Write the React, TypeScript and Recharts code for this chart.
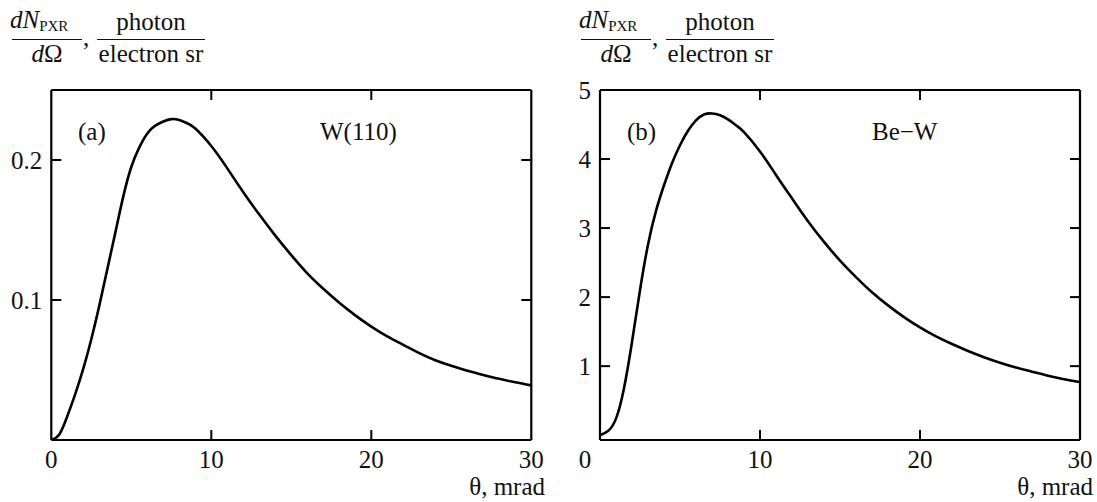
import { Line, LineChart, XAxis, YAxis } from "recharts";

// theta, mrad
const THETA = [
  0, 0.5, 1, 1.5, 2, 2.5, 3, 3.5, 4, 4.5, 5, 5.5, 6, 6.5, 7, 7.5, 8, 8.5, 9, 10, 11, 12, 13, 14, 15, 16, 17,
  18, 19, 20, 21, 22, 23, 24, 25, 26, 27, 28, 29, 30,
];

// (a) W(110)
const W110 = [
  0, 0.004, 0.017, 0.033, 0.051, 0.072, 0.096, 0.122, 0.148, 0.174, 0.195, 0.209, 0.219, 0.2245, 0.2275, 0.2292,
  0.2285, 0.2262, 0.2225, 0.21, 0.194, 0.177, 0.161, 0.146, 0.132, 0.119, 0.108, 0.098, 0.089, 0.081, 0.074,
  0.068, 0.062, 0.057, 0.053, 0.0495, 0.0465, 0.0437, 0.0412, 0.039,
];

// (b) Be-W
const BEW = [
  0, 0.06, 0.24, 0.68, 1.35, 2.1, 2.76, 3.25, 3.62, 3.94, 4.2, 4.41, 4.56, 4.645, 4.66, 4.635, 4.575, 4.49, 4.39,
  4.11, 3.77, 3.43, 3.1, 2.8, 2.53, 2.29, 2.07, 1.88, 1.71, 1.56, 1.43, 1.32, 1.22, 1.13, 1.05, 0.98, 0.92, 0.86,
  0.81, 0.77,
];

const X_TICKS = [0, 10, 20, 30];
const A_TICKS = [0.1, 0.2];
const B_TICKS = [1, 2, 3, 4, 5];

const FONT = "'Liberation Serif', 'DejaVu Serif', serif";
const FS = 25;
const TICK = 10;

type TickProps = { x?: number; y?: number; payload?: { value: number } };

const BottomTick = ({ x = 0, y = 0, payload, zeroShift = 0 }: TickProps & { zeroShift?: number }) => {
  const v = payload?.value ?? 0;
  const inner = v !== 0 && v !== 30;
  return (
    <g>
      {inner && <line x1={x} x2={x} y1={y} y2={y - TICK} stroke="#000" strokeWidth={2} />}
      <text x={x + (v === 0 ? zeroShift : 0)} y={y + 28} textAnchor="middle" fontFamily={FONT} fontSize={FS} fill="#111">
        {v}
      </text>
    </g>
  );
};

const TopTick = ({ x = 0, y = 0, payload }: TickProps) => {
  const v = payload?.value ?? 0;
  if (v === 0 || v === 30) return <g />;
  return <line x1={x} x2={x} y1={y} y2={y + TICK} stroke="#000" strokeWidth={2} />;
};

const LeftTick = ({ x = 0, y = 0, payload, top = false }: TickProps & { top?: boolean }) => {
  const v = payload?.value ?? 0;
  return (
    <g>
      {!top && <line x1={x} x2={x + TICK} y1={y} y2={y} stroke="#000" strokeWidth={2} />}
      <text x={x - 9} y={y + 9} textAnchor="end" fontFamily={FONT} fontSize={FS} fill="#111">
        {v}
      </text>
    </g>
  );
};

const RightTick = ({ x = 0, y = 0, top = false }: TickProps & { top?: boolean }) =>
  top ? <g /> : <line x1={x} x2={x - TICK} y1={y} y2={y} stroke="#000" strokeWidth={2} />;

const axisLine = { stroke: "#000", strokeWidth: 2.2 };

function Panel({
  values,
  yDomain,
  yTicks,
  topValue,
  left,
  width,
  plotLeft,
  plotRight,
  zeroShift,
}: {
  values: number[];
  yDomain: [number, number];
  yTicks: number[];
  topValue: number;
  left: number;
  width: number;
  plotLeft: number;
  plotRight: number;
  zeroShift: number;
}) {
  const data = THETA.map((x, i) => ({ x, y: values[i] }));
  return (
    <div style={{ position: "absolute", left, top: 0 }}>
      <LineChart width={width} height={502} data={data} margin={{ top: 0, right: 0, bottom: 0, left: 0 }}>
        <XAxis
          dataKey="x"
          type="number"
          domain={[0, 30]}
          ticks={X_TICKS}
          height={62}
          tickSize={0}
          tickMargin={0}
          tickLine={false}
          axisLine={axisLine}
          tick={(p: TickProps) => <BottomTick {...p} zeroShift={zeroShift} />}
          interval={0}
        />
        <XAxis
          xAxisId="top"
          orientation="top"
          dataKey="x"
          type="number"
          domain={[0, 30]}
          ticks={X_TICKS}
          height={90}
          tickSize={0}
          tickMargin={0}
          tickLine={false}
          axisLine={axisLine}
          tick={(p: TickProps) => <TopTick {...p} />}
          interval={0}
        />
        <YAxis
          type="number"
          domain={yDomain}
          ticks={yTicks}
          width={plotLeft}
          tickSize={0}
          tickMargin={0}
          tickLine={false}
          axisLine={axisLine}
          tick={(p: TickProps) => <LeftTick {...p} top={p.payload?.value === topValue} />}
          interval={0}
          allowDataOverflow
        />
        <YAxis
          yAxisId="right"
          orientation="right"
          type="number"
          domain={yDomain}
          ticks={yTicks}
          width={plotRight}
          tickSize={0}
          tickMargin={0}
          tickLine={false}
          axisLine={axisLine}
          tick={(p: TickProps) => <RightTick {...p} top={p.payload?.value === topValue} />}
          interval={0}
          allowDataOverflow
        />
        <Line
          dataKey="y"
          type="natural"
          stroke="#000"
          strokeWidth={2.6}
          dot={false}
          isAnimationActive={false}
        />
      </LineChart>
    </div>
  );
}

function Title({ dx }: { dx: number }) {
  return (
    <g fontFamily={FONT} fill="#111" transform={`translate(${dx},0)`}>
      <text x={10} y={28} fontSize={FS}>
        <tspan fontStyle="italic">dN</tspan>
        <tspan fontSize={15} dy={3}>
          PXR
        </tspan>
      </text>
      <line x1={12} x2={82} y1={39.5} y2={39.5} stroke="#111" strokeWidth={1} />
      <text x={47} y={62} fontSize={FS} textAnchor="middle">
        <tspan fontStyle="italic">d</tspan>Ω
      </text>
      <text x={83} y={46} fontSize={FS}>
        ,
      </text>
      <text x={151} y={30} fontSize={FS} textAnchor="middle">
        photon
      </text>
      <line x1={97} x2={205} y1={39.5} y2={39.5} stroke="#111" strokeWidth={1} />
      <text x={151} y={62} fontSize={FS} textAnchor="middle">
        electron sr
      </text>
    </g>
  );
}

export default function App() {
  return (
    <div style={{ position: "absolute", left: 0, top: 0, width: 1097, height: 502, background: "#fff" }}>
      <Panel
        values={W110}
        yDomain={[0, 0.25]}
        yTicks={A_TICKS}
        topValue={0.25}
        left={0}
        width={560}
        plotLeft={51.3}
        plotRight={28.7}
        zeroShift={0}
      />
      <Panel
        values={BEW}
        yDomain={[-0.07, 5]}
        yTicks={B_TICKS}
        topValue={5}
        left={560}
        width={537}
        plotLeft={40}
        plotRight={17}
        zeroShift={-15}
      />
      <svg
        width={1097}
        height={502}
        style={{ position: "absolute", left: 0, top: 0, pointerEvents: "none" }}
      >
        <Title dx={0} />
        <Title dx={569} />
        <g fontFamily={FONT} fontSize={FS} fill="#111">
          <text x={78} y={140}>
            (a)
          </text>
          <text x={320} y={140}>
            W(110)
          </text>
          <text x={627} y={140}>
            (b)
          </text>
          <text x={872} y={140}>
            Be−W
          </text>
          <text x={545} y={495} textAnchor="end">
            θ, mrad
          </text>
          <text x={1093} y={495} textAnchor="end">
            θ, mrad
          </text>
        </g>
      </svg>
    </div>
  );
}
